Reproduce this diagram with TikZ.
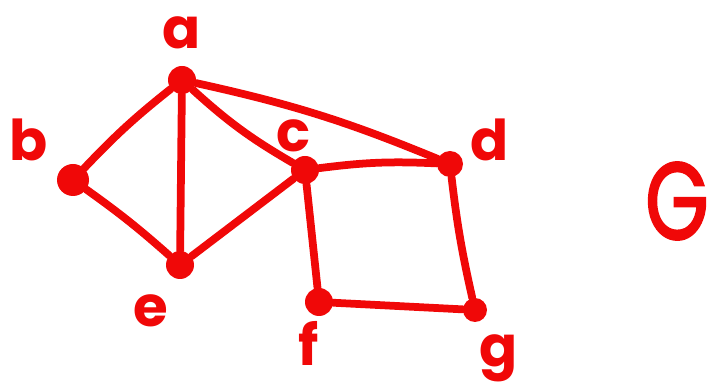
\documentclass[tikz,border=0pt]{standalone}
\usepackage{fontspec}
\setmainfont{Poppins}
\newfontfamily\namefont{Poppins}[FakeBold=2.2]
\usepackage{tikz}
\usetikzlibrary{positioning}
\definecolor{inkred}{RGB}{240, 8, 8}

\begin{document}
\begin{tikzpicture}[x=0.2mm, y=-0.2mm,
    vertex/.style={circle, fill=inkred, inner sep=0pt, minimum size=5.6mm},
    edge/.style={inkred, line width=1.55mm, line cap=round},
    lbl/.style={text=inkred, inner sep=0pt, font=\fontsize{32}{32}\selectfont\bfseries}]
  \useasboundingbox (0,0) rectangle (709,389);
  % vertices
  \node[vertex] (a) at (182,80) {};
  \node[vertex, minimum size=6.4mm] (b) at (73,180) {};
  \node[vertex] (c) at (305,170) {};
  \node[vertex, minimum size=5.2mm] (d) at (450,164) {};
  \node[vertex] (e) at (180,265) {};
  \node[vertex] (f) at (319,302) {};
  \node[vertex, minimum size=4.8mm] (g) at (475,310) {};
  % edges
  \draw[edge] (a) to[bend right=4] (b);
  \draw[edge] (a) -- (e);
  \draw[edge] (a) to[bend right=6] (c);
  \draw[edge] (a) to[bend left=5] (d);
  \draw[edge] (b) to[bend left=3] (e);
  \draw[edge] (e) -- (c);
  \draw[edge] (c) to[bend left=5] (d);
  \draw[edge] (c) -- (f);
  \draw[edge] (d) to[bend right=3] (g);
  \draw[edge] (f) -- (g);
  % labels
  \node[lbl] (la) at (182,33) {a};
  \node[lbl] (lb) at (29,140) {b};
  \node[lbl] (lc) at (294,136) {c};
  \node[lbl] (ld) at (490,140) {d};
  \node[lbl] (le) at (151,311) {e};
  \node[lbl] (lf) at (309,343) {f};
  \node[lbl] (lg) at (499,358) {g};
  \node[lbl, font=\fontsize{62}{62}\selectfont\namefont, xscale=0.75] (name) at (677,201) {G};
\end{tikzpicture}
\end{document}
